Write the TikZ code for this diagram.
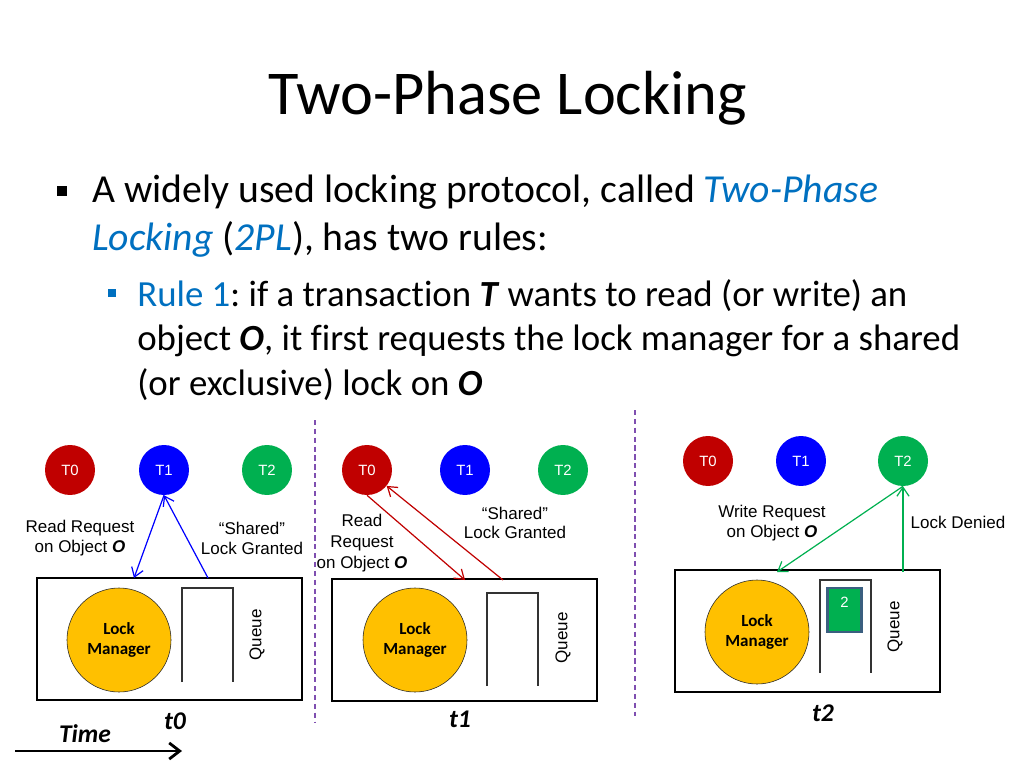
\documentclass[tikz,border=0pt]{standalone}
\usepackage{fontspec}
\setmainfont{Carlito}[Ligatures=NoCommon]
\newfontfamily\arialfont{Liberation Sans}
\usetikzlibrary{positioning,arrows.meta}
\definecolor{txred}{HTML}{C00000}
\definecolor{txblue}{HTML}{0000FF}
\definecolor{txgreen}{HTML}{00B050}
\definecolor{lmgold}{HTML}{FFC000}
\definecolor{divpurple}{HTML}{7F4FB0}
\definecolor{kwblue}{HTML}{0070C0}
\definecolor{qborder}{HTML}{3B5F80}
\newcommand{\objO}{\textbf{\textit{O}}}
\frenchspacing

\begin{document}
\begin{tikzpicture}[x=0.24805mm,y=-0.24805mm,
	txn/.style={circle,minimum size=12.4mm,inner sep=0pt,text=white,font=\arialfont\fontsize{10.5}{12}\selectfont},
	lockmgr/.style={circle,draw=black!85,fill=lmgold,minimum size=25.8mm,inner sep=0pt,align=center,font=\bfseries\fontsize{12}{14.5}\selectfont},
	panel/.style={draw,line width=0.7mm,minimum width=65.7mm,minimum height=30.3mm,inner sep=0pt},
	lbl/.style={align=center,font=\arialfont\fontsize{12}{14}\selectfont},
	qlbl/.style={rotate=90,font=\arialfont\fontsize{12}{13}\selectfont},
	tick/.style={font=\bfseries\itshape\fontsize{18}{20}\selectfont},
	msg/.style={-{Straight Barb[length=2.2mm,width=3mm]},line width=0.3mm},
	divider/.style={divpurple,line width=0.55mm,dash pattern=on 1.3mm off 0.9mm},
	queue/.style={draw=black!80,line width=0.3mm},
	body/.style={align=left,anchor=west,inner sep=0pt}]
	\useasboundingbox (0,0) rectangle (1024,768);

	% title and bullets
	\node[font=\fontsize{44}{52}\selectfont] (title) at (508,98) {Two-Phase Locking};
	\node[fill=black,minimum size=2.4mm,inner sep=0pt] (bul1) at (62,191) {};
	\node[body,font=\fontsize{28}{33.7}\selectfont] (rules) at (92,216)
		{A widely used locking protocol, called \textcolor{kwblue}{\textit{Two-Phase}}\\
		\textcolor{kwblue}{\textit{Locking}} (\textcolor{kwblue}{\textit{2PL}}), has two rules:};
	\node[fill=kwblue,minimum size=1.9mm,inner sep=0pt] (bul2) at (112,293) {};
	\node[body,font=\fontsize{26}{31.6}\selectfont] (rule1) at (137,340)
		{\textcolor{kwblue}{Rule 1}: if a transaction \textbf{\textit{T}} wants to read (or write) an\\
		object \objO, it first requests the lock manager for a shared\\
		(or exclusive) lock on \objO};

	% dividers between time steps
	\coordinate (d1top) at (315,420); \coordinate (d1bot) at (315,722);
	\coordinate (d2top) at (635,410); \coordinate (d2bot) at (635,716);
	\draw[divider] (d1top) -- (d1bot);
	\draw[divider] (d2top) -- (d2bot);

	% t0
	\node[txn,fill=txred] (A0) at (70,470) {T0};
	\node[txn,fill=txblue] (A1) at (164,470) {T1};
	\node[txn,fill=txgreen] (A2) at (267,470) {T2};
	\node[panel] (boxA) at (169.5,639) {};
	\node[lockmgr] (lmA) at (119,640) {Lock\\Manager};
	\draw[queue] (182,682) |- (233,588) -- (233,682);
	\node[qlbl] (qA) at (257,635) {Queue};
	\coordinate (reqA) at (134,578);
	\coordinate (grA) at (208,578);
	\draw[msg,txblue] (A1.south) -- (reqA);
	\draw[msg,txblue] (grA) -- (A1.south);
	\node[lbl] (rqA) at (80,538) {Read Request\\on Object \objO};
	\node[lbl] (gtA) at (252,538) {“Shared”\\Lock Granted};
	\node[tick] (t0) at (175,721) {t0};
	\node[tick] (time) at (85,734) {Time};
	\coordinate (tstart) at (15,751);
	\coordinate (tend) at (182,751);
	\draw[-{Straight Barb[length=2.6mm,width=4mm]},line width=0.7mm] (tstart) -- (tend);

	% t1
	\node[txn,fill=txred] (B0) at (367,470) {T0};
	\node[txn,fill=txblue] (B1) at (465,470) {T1};
	\node[txn,fill=txgreen] (B2) at (563,470) {T2};
	\node[panel] (boxB) at (464.5,640) {};
	\node[lockmgr] (lmB) at (415,640) {Lock\\Manager};
	\draw[queue] (487,686) |- (538,593) -- (538,686);
	\node[qlbl] (qB) at (563,638) {Queue};
	\coordinate (reqB) at (465,580);
	\coordinate (grB) at (503,580);
	\draw[msg,txred] (B0.south) -- (reqB);
	\draw[msg,txred] (grB) -- (B0);
	\node[lbl,font=\arialfont\fontsize{12}{14.8}\selectfont] (rqB) at (362,543) {Read\\Request\\on Object \objO};
	\node[lbl] (gtB) at (515,523) {“Shared”\\Lock Granted};
	\node[tick] (t1) at (460,719) {t1};

	% t2
	\node[txn,fill=txred] (C0) at (708,461) {T0};
	\node[txn,fill=txblue] (C1) at (801,461) {T1};
	\node[txn,fill=txgreen] (C2) at (903,461) {T2};
	\node[panel] (boxC) at (807.5,631) {};
	\node[lockmgr] (lmC) at (757,632) {Lock\\Manager};
	\draw[queue] (820,673) |- (871,580) -- (871,673);
	\node[draw=qborder,line width=0.6mm,fill=txgreen,minimum width=8.5mm,minimum height=10.8mm,inner sep=0pt,
		text=white,font=\arialfont\fontsize{10.5}{12}\selectfont,anchor=north] (waitC) at (844.5,587) {\raisebox{3.6mm}{2}};
	\node[qlbl] (qC) at (895,627) {Queue};
	\coordinate (reqC) at (777,572);
	\coordinate (dnC) at (903,572);
	\draw[msg,txgreen] (C2.south) -- (reqC);
	\draw[msg,txgreen] (dnC) -- (C2.south);
	\node[lbl] (rqC) at (772,523) {Write Request\\on Object \objO};
	\node[lbl] (dnlC) at (958,522) {Lock Denied};
	\node[tick] (t2) at (823,713) {t2};
\end{tikzpicture}
\end{document}
